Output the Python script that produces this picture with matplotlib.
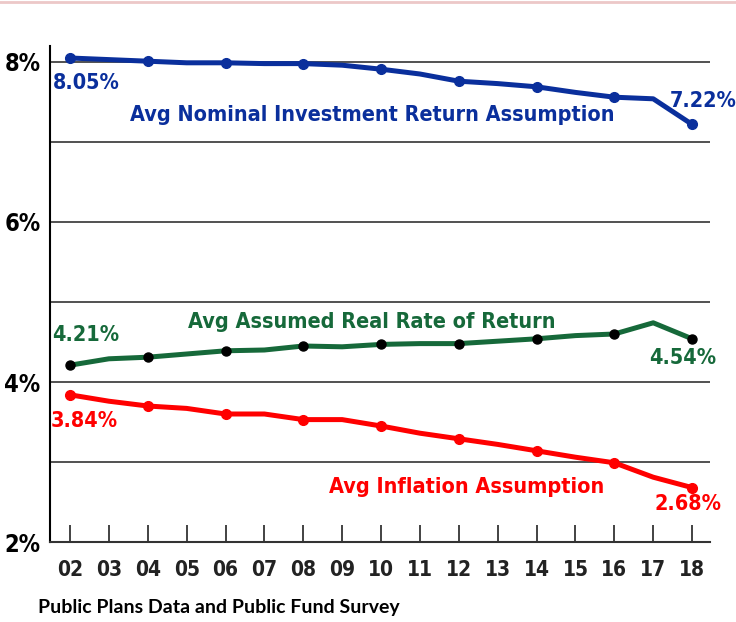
import matplotlib
matplotlib.use("Agg")
import matplotlib.pyplot as plt
import numpy as np

# fiscal years 2002..2018
years = np.arange(2, 19)
year_labels = ["%02d" % y for y in years]

# values (percent)
nominal = [8.05, 8.03, 8.01, 7.99, 7.99, 7.98, 7.98, 7.96, 7.91, 7.85, 7.76, 7.73, 7.69, 7.62, 7.56, 7.54, 7.22]
real = [4.21, 4.29, 4.31, 4.35, 4.39, 4.40, 4.45, 4.44, 4.47, 4.48, 4.48, 4.51, 4.54, 4.58, 4.60, 4.74, 4.54]
inflation = [3.84, 3.76, 3.70, 3.67, 3.60, 3.60, 3.53, 3.53, 3.45, 3.36, 3.29, 3.22, 3.14, 3.06, 2.99, 2.81, 2.68]

BLUE = "#0a2f9c"
GREEN = "#16693a"
RED = "#ff0000"
COND = dict(family="DejaVu Sans", fontstretch="condensed", fontweight="bold")

fig = plt.figure(figsize=(7.36, 6.22), dpi=100)
ax = fig.add_axes([50/736, 80/622, 660/736, 496/622])

# horizontal grid lines at each whole percent
for g in range(3, 9):
    ax.axhline(g, color="#333333", lw=1.2, zorder=1)

mk = years % 2 == 0  # dots only on even years
ax.plot(years, nominal, color=BLUE, lw=3.6, zorder=3)
ax.plot(years[mk], np.array(nominal)[mk], "o", color=BLUE, ms=7, zorder=4)
ax.plot(years, real, color=GREEN, lw=3.6, zorder=3)
ax.plot(years[mk], np.array(real)[mk], "o", color="black", ms=6.5, zorder=4)
ax.plot(years, inflation, color=RED, lw=3.6, zorder=3)
ax.plot(years[mk], np.array(inflation)[mk], "o", color=RED, ms=7, zorder=4)

ax.set_xlim(1.486, 18.46)
ax.set_ylim(2, 8.2)

ax.spines["top"].set_visible(False)
ax.spines["right"].set_visible(False)
ax.spines["left"].set_linewidth(1.5)
ax.spines["bottom"].set_linewidth(1.5)
ax.spines["bottom"].set_color("#333333")

ax.set_xticks(years)
ax.set_xticklabels(year_labels, fontsize=15, **COND)
ax.tick_params(axis="x", direction="in", length=12, width=1.2, pad=13, colors="#222222")
ax.set_yticks([2, 4, 6, 8])
ax.set_yticklabels(["2%", "4%", "6%", "8%"], fontsize=17, **COND)
ax.tick_params(axis="y", length=0, pad=7)

lbl = dict(fontsize=15.5, ha="center", va="center", **COND)

def tag(x, y, text, off, color):
    ax.annotate(text, (x, y), xytext=off, textcoords="offset points", color=color, **lbl)

tag(years[0], nominal[0], "8.05%", (12, -18), BLUE)
tag(years[-1], nominal[-1], "7.22%", (8, 17), BLUE)
tag(years[0], real[0], "4.21%", (11.5, 22), GREEN)
tag(years[-1], real[-1], "4.54%", (-7, -14), GREEN)
tag(years[0], inflation[0], "3.84%", (10.5, -19), RED)
tag(years[-1], inflation[-1], "2.68%", (-3, -12), RED)

ax.text(9.77, 7.34, "Avg Nominal Investment Return Assumption", color=BLUE, **lbl)
ax.text(9.77, 4.75, "Avg Assumed Real Rate of Return", color=GREEN, **lbl)
ax.text(12.21, 2.69, "Avg Inflation Assumption", color=RED, **lbl)

fig.text(38/736, 1 - 607/622, "Public Plans Data and Public Fund Survey",
         family=["Lato", "DejaVu Sans"], fontsize=14, fontweight="bold", va="center")

# thin pink rule along the top edge
fig.add_artist(plt.Line2D([0, 1], [0.997, 0.997], color="#ecc8c8", lw=2, transform=fig.transFigure))

fig.savefig("out.png", dpi=100)
